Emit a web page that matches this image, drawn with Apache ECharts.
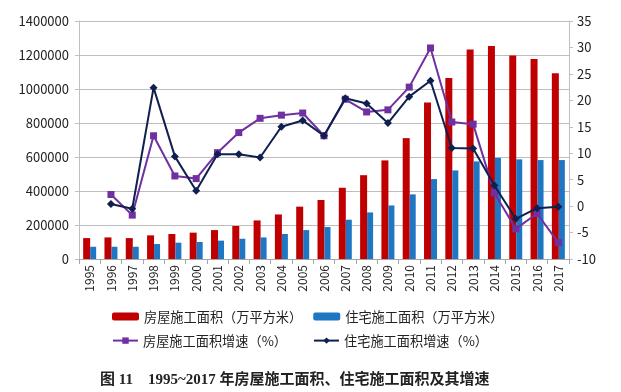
<!DOCTYPE html>
<html><head><meta charset="utf-8">
<script src="https://cdn.jsdelivr.net/npm/echarts@6/dist/echarts.min.js"></script>
<style>html,body{margin:0;padding:0;background:#fff}#c{width:621px;height:392px}</style>
</head><body><div id="c"></div>
<script>
var years = ['1995','1996','1997','1998','1999','2000','2001','2002','2003','2004','2005','2006','2007','2008','2009','2010','2011','2012','2013','2014','2015','2016','2017'];
var houseArea = [123000,127000,123000,139000,147000,155000,170000,194000,227000,262000,308000,347000,419000,493000,580000,711000,921000,1065000,1232000,1253000,1197000,1177000,1093000];
var residArea = [72000,72000,72000,88000,96000,100000,108000,119000,127000,147000,170000,188000,231000,274000,315000,380000,470000,521000,574000,595000,586000,582000,582000];
var houseGrowth = [null,2.2,-1.7,13.3,5.7,5.2,10.1,13.9,16.6,17.2,17.6,13.3,20.2,17.8,18.2,22.5,29.9,15.9,15.5,2.5,-4.3,-1.4,-6.9];
var residGrowth = [null,0.4,-0.5,22.4,9.4,2.9,9.8,9.8,9.2,15.0,16.2,13.3,20.4,19.4,15.7,20.7,23.7,11.0,10.9,3.9,-2.4,-0.4,-0.1];
var leftTicks = {min:0, max:1400000, interval:200000};
var rightTicks = {min:-10, max:35, interval:5};
var names = ['房屋施工面积（万平方米）','住宅施工面积（万平方米）','房屋施工面积增速（%）','住宅施工面积增速（%）'];
var titleText = '图 11    1995~2017 年房屋施工面积、住宅施工面积及其增速';

var chart = echarts.init(document.getElementById('c'));
var font = '"Noto Sans CJK SC", "Noto Sans", sans-serif';
chart.setOption({
  animation:false,
  textStyle:{fontFamily:font},
  title:{text:titleText, left:95, top:368, textStyle:{fontSize:15, fontWeight:'bold', color:'#222', fontFamily:'"Liberation Serif","Noto Sans CJK SC", serif'}},
  legend:[
    {data:[names[0],names[1]], left:107, top:305, itemWidth:27, itemHeight:8, itemGap:11, textStyle:{fontSize:13.2, color:'#222'}},
    {data:[names[2],names[3]], left:107, top:329, itemWidth:25, itemHeight:8, itemGap:26, textStyle:{fontSize:13.2, color:'#222'}}
  ],
  grid:{left:79, right:52, top:21, bottom:133},
  xAxis:{type:'category', data:years,
    axisLine:{lineStyle:{color:'#a6a6a6'}},
    axisTick:{show:true, alignWithLabel:false, lineStyle:{color:'#a6a6a6'}, length:5},
    axisLabel:{rotate:90, fontSize:12, color:'#222', margin:6}},
  yAxis:[
    {type:'value', min:leftTicks.min, max:leftTicks.max, interval:leftTicks.interval,
     axisLine:{show:true, lineStyle:{color:'#bfbfbf'}}, axisTick:{show:true, lineStyle:{color:'#bfbfbf'}, inside:false, length:4},
     splitLine:{lineStyle:{color:'#bdbdbd'}},
     axisLabel:{fontSize:13, color:'#222', margin:10, formatter:function(v){return String(v);}}},
    {type:'value', min:rightTicks.min, max:rightTicks.max, interval:rightTicks.interval, position:'right',
     axisLine:{show:true, lineStyle:{color:'#bfbfbf'}}, axisTick:{show:true, lineStyle:{color:'#bfbfbf'}, length:4},
     splitLine:{show:false},
     axisLabel:{fontSize:13, color:'#222', margin:8}}
  ],
  series:[
    {name:names[0], type:'bar', data:houseArea, itemStyle:{color:'#c00000'}, barWidth:7, barGap:'0%'},
    {name:names[1], type:'bar', data:residArea, itemStyle:{color:'#1f77c4'}, barWidth:6, barGap:'0%'},
    {name:names[2], type:'line', yAxisIndex:1, data:houseGrowth, symbol:'rect', symbolSize:7,
     itemStyle:{color:'#7030a0'}, lineStyle:{color:'#7030a0', width:2}, connectNulls:false, z:3},
    {name:names[3], type:'line', yAxisIndex:1, data:residGrowth, symbol:'diamond', symbolSize:8,
     itemStyle:{color:'#0f1f4f'}, lineStyle:{color:'#0f1f4f', width:2}, z:4}
  ]
});
</script></body></html>
